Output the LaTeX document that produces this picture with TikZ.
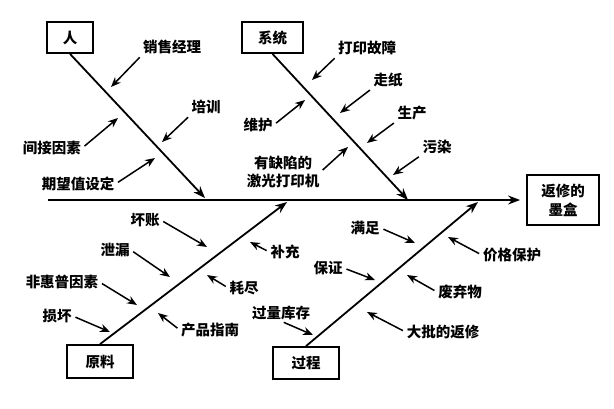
\documentclass[tikz,border=0pt]{standalone}
\usepackage{fontspec}
\setmainfont{Noto Sans CJK SC}
\usetikzlibrary{arrows.meta}
\tikzset{
  catbox/.style={draw,line width=1.8pt,inner sep=2pt,align=center,font=\fontsize{14.5}{17}\selectfont\bfseries},
  bone/.style={line width=1.8pt,-{Stealth[length=12pt,width=9pt]}},
  cause/.style={inner sep=1pt,font=\fontsize{14.5}{17}\selectfont\bfseries,align=center},
  twig/.style={line width=1.5pt,shorten <=3pt,-{Stealth[length=10pt,width=8pt]}}
}
\begin{document}
\begin{tikzpicture}[x=1pt,y=-1pt]
  \useasboundingbox (0,0) rectangle (614,408);
  % head and spine
  \node[catbox,minimum width=72pt,minimum height=50pt,font=\fontsize{14.5}{19}\selectfont\bfseries] (effect) at (563,200) {返修的\\墨盒};
  \coordinate (tail) at (48,200);
  \draw[bone,shorten >=6pt] (tail) -- (effect.west);

  % category boxes and bones
  \node[catbox,minimum width=46pt,minimum height=31pt] (ren) at (70,37.5) {人};
  \node[catbox,minimum width=61pt,minimum height=31pt] (xitong) at (272.5,37.5) {系统};
  \node[catbox,minimum width=66pt,minimum height=33pt] (yuanliao) at (100,361.5) {原料};
  \node[catbox,minimum width=66pt,minimum height=32pt] (guocheng) at (306,363) {过程};
  \coordinate (renTip) at (205,198);
  \coordinate (xitongTip) at (408,200);
  \coordinate (yuanliaoTip) at (287,202);
  \coordinate (guochengTip) at (478,202);
  \draw[bone] (ren.south) -- (renTip);
  \draw[bone] (xitong.south) -- (xitongTip);
  \draw[bone] (yuanliao.north) -- (yuanliaoTip);
  \draw[bone] (guocheng.north) -- (guochengTip);

  % causes: ren
  \node[cause] (r1) at (172,47) {销售经理};
  \node[cause] (r2) at (206,107) {培训};
  \node[cause] (r3) at (52,148) {间接因素};
  \node[cause] (r4) at (78,184) {期望值设定};
  \coordinate (r1t) at (111,87);
  \coordinate (r2t) at (162,142);
  \coordinate (r3t) at (118,118);
  \coordinate (r4t) at (155,158);
  \draw[twig] (r1.south west) -- (r1t);
  \draw[twig] (r2.south west) -- (r2t);
  \draw[twig] (r3.east) -- (r3t);
  \draw[twig] (r4.east) -- (r4t);

  % causes: xitong
  \node[cause] (x1) at (367,48) {打印故障};
  \node[cause] (x2) at (388,80) {走纸};
  \node[cause] (x3) at (412,113) {生产};
  \node[cause] (x4) at (437,147) {污染};
  \node[cause] (x5) at (258,125) {维护};
  \node[cause,font=\fontsize{14.5}{18}\selectfont\bfseries] (x6) at (283,172) {有缺陷的\\激光打印机};
  \coordinate (x1t) at (312,80);
  \coordinate (x2t) at (340,113);
  \coordinate (x3t) at (367,143);
  \coordinate (x4t) at (393,175);
  \coordinate (x5t) at (305,100);
  \coordinate (x6t) at (348,147);
  \draw[twig] (x1.south west) -- (x1t);
  \draw[twig] (x2.south west) -- (x2t);
  \draw[twig] (x3.south west) -- (x3t);
  \draw[twig] (x4.south west) -- (x4t);
  \draw[twig] (x5.east) -- (x5t);
  \draw[twig] (x6.east) -- (x6t);

  % causes: yuanliao
  \node[cause] (y1) at (145,220) {坏账};
  \node[cause] (y2) at (115,250) {泄漏};
  \node[cause] (y3) at (62,282) {非惠普因素};
  \node[cause] (y4) at (57,316) {损坏};
  \node[cause] (y5) at (285,252) {补充};
  \node[cause] (y6) at (244,288) {耗尽};
  \node[cause] (y7) at (210,330) {产品指南};
  \coordinate (y1t) at (207,247);
  \coordinate (y2t) at (170,277);
  \coordinate (y3t) at (137,305);
  \coordinate (y4t) at (110,332);
  \coordinate (y5t) at (250,242);
  \coordinate (y6t) at (207,275);
  \coordinate (y7t) at (158,313);
  \draw[twig] (y1.east) -- (y1t);
  \draw[twig] (y2.east) -- (y2t);
  \draw[twig] (y3.east) -- (y3t);
  \draw[twig] (y4.east) -- (y4t);
  \draw[twig] (y5.west) -- (y5t);
  \draw[twig] (y6.west) -- (y6t);
  \draw[twig] (y7.west) -- (y7t);

  % causes: guocheng
  \node[cause] (g1) at (365,228) {满足};
  \node[cause] (g2) at (328,268) {保证};
  \node[cause] (g3) at (281,313) {过量库存};
  \node[cause] (g4) at (512,255) {价格保护};
  \node[cause] (g5) at (460,292) {废弃物};
  \node[cause] (g6) at (443,332) {大批的返修};
  \coordinate (g1t) at (415,243);
  \coordinate (g2t) at (375,280);
  \coordinate (g3t) at (313,335);
  \coordinate (g4t) at (448,237);
  \coordinate (g5t) at (407,275);
  \coordinate (g6t) at (367,312);
  \draw[twig] (g1.east) -- (g1t);
  \draw[twig] (g2.east) -- (g2t);
  \draw[twig] (g3.south) -- (g3t);
  \draw[twig] (g4.west) -- (g4t);
  \draw[twig] (g5.west) -- (g5t);
  \draw[twig] (g6.west) -- (g6t);
\end{tikzpicture}
\end{document}
